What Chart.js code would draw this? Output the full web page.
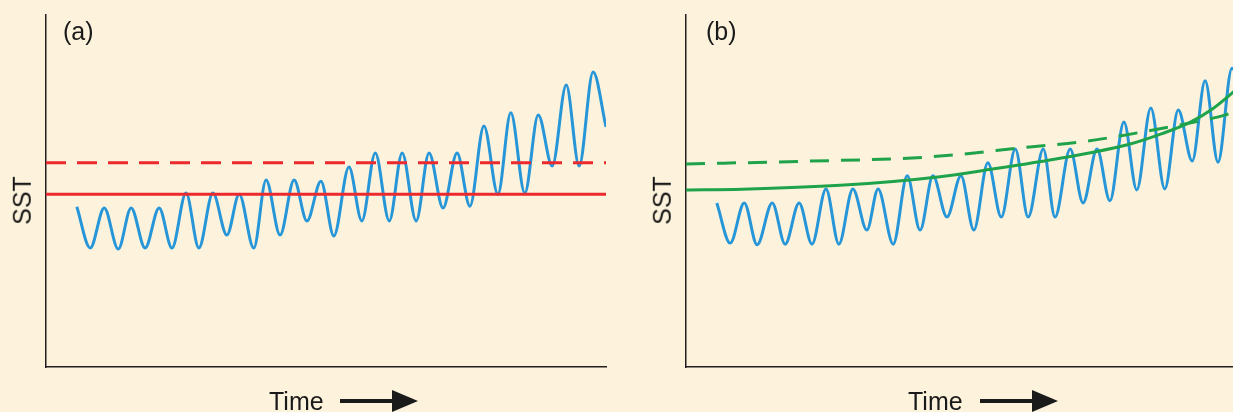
<!DOCTYPE html>
<html>
<head>
<meta charset="utf-8">
<script src="https://cdn.jsdelivr.net/npm/chart.js@4.4.1/dist/chart.umd.min.js"></script>
<style>
    html, body {
        margin: 0;
        padding: 0;
        width: 1233px;
        height: 412px;
        overflow: hidden;
        background: #fdf3dd;
        font-family: "Liberation Sans", Arial, sans-serif;
    }
    .panel {
        position: absolute;
        top: 0;
        width: 620px;
        height: 412px;
    }
    .label {
        position: absolute;
        font-size: 25px;
        color: #1a1a1a;
        white-space: nowrap;
        line-height: 1;
    }
    .sst {
        transform: rotate(-90deg);
        transform-origin: center center;
    }
    .arrow {
        position: absolute;
        height: 4px;
        background: #1a1a1a;
    }
    .arrow::after {
        content: '';
        position: absolute;
        right: -24px;
        top: -9px;
        border-left: 26px solid #1a1a1a;
        border-top: 11px solid transparent;
        border-bottom: 11px solid transparent;
    }
</style>
</head>
<body>
<div class="panel" style="left:0"><canvas id="chartA"></canvas></div>
<div class="panel" style="left:640px"><canvas id="chartB"></canvas></div>

<div class="label" style="left:63px; top:19px">(a)</div>
<div class="label" style="left:706px; top:19px">(b)</div>
<div class="label sst" style="left:-2px; top:188px">SST</div>
<div class="label sst" style="left:638px; top:188px">SST</div>
<div class="label" style="left:269px; top:389px">Time</div>
<div class="label" style="left:908px; top:389px">Time</div>
<div class="arrow" style="left:340px; top:399px; width:54px"></div>
<div class="arrow" style="left:980px; top:399px; width:54px"></div>

<script>
const timeA = [5.5, 7.9, 10.4, 12.9, 15.2, 17.7, 20.2, 22.5, 25.0, 27.3, 29.8, 32.3, 34.5, 37.1,
    39.3, 41.8, 44.3, 46.6, 49.1, 51.4, 54.1, 56.4, 58.8, 61.3, 63.6, 66.1, 68.4, 70.9, 73.4,
    75.7, 78.2, 80.7, 83.0, 85.5, 87.9, 90.4, 92.9, 95.2, 97.7, 100];
const sstA = [45.5, 33.8, 45.2, 33.5, 45.2, 33.8, 45.2, 33.8, 49.4, 33.8, 49.4, 37.5, 49.1, 33.8,
    53.1, 37.5, 53.1, 41.5, 52.8, 37.2, 56.8, 41.5, 60.8, 41.5, 60.8, 41.5, 60.8, 45.2, 60.8,
    45.7, 68.5, 49.1, 72.2, 49.4, 71.6, 57.1, 80.1, 57.1, 83.8, 68.2];

// fixed reference lines of panel (a)
const fullTime = [0, 100];
const fixedMean = [49.1, 49.1];
const fixedThreshold = [58.0, 58.0];

// Panel (b): same oscillation, slightly shifted
const timeB = [5.5, 7.9, 10.4, 12.7, 15.4, 17.7, 20.2, 22.5, 25.0, 27.3, 29.8, 32.3, 34.3, 37.0,
    39.5, 41.8, 44.1, 46.6, 49.1, 51.4, 53.9, 56.3, 58.8, 61.1, 63.8, 65.9, 68.6, 70.9, 73.4,
    75.7, 78.2, 80.5, 83.0, 85.5, 87.9, 90.4, 92.7, 95.0, 97.5, 100];
const sstB = [46.6, 35.2, 46.6, 34.7, 46.6, 34.9, 46.6, 34.9, 50.6, 34.9, 50.6, 38.9, 50.6, 34.9,
    54.3, 38.9, 54.3, 42.6, 54.3, 38.9, 58.0, 42.6, 61.9, 42.6, 61.9, 42.6, 61.9, 46.6, 61.9,
    47.2, 69.6, 50.3, 73.6, 50.6, 73.0, 58.5, 81.3, 58.2, 84.9, 69.6];

// moving reference lines of panel (b)
const trendTime = [0, 10, 27.5, 45, 55, 65, 72, 79, 85, 90, 94, 97.5, 100];
const trendMean = [50.3, 50.5, 51.6, 54.0, 56.3, 58.8, 60.8, 63.2, 66.3, 69.5, 73.3, 77.8, 81.5];
const trendThreshTime = [0, 20, 43.6, 61.4, 70.4, 82.3, 94.1, 97.7, 100];
const trendThreshold = [57.7, 58.4, 59.7, 62.5, 63.9, 67.0, 70.7, 72.2, 73.0];

const BLUE = '#2696d8';
const RED = '#ec2a2e';
const GREEN = '#1fa34a';
const AXIS = '#231f20';

function toPoints(xs, ys) {
    return xs.map((x, i) => ({ x: x, y: ys[i] }));
}

function lineSet(xs, ys, color, dash) {
    return {
        data: toPoints(xs, ys),
        borderColor: color,
        borderWidth: 3,
        borderDash: dash || [],
        pointRadius: 0,
        fill: false,
        cubicInterpolationMode: 'monotone'
    };
}

function makeChart(id, datasets) {
    const ctx = document.getElementById(id).getContext('2d');
    return new Chart(ctx, {
        type: 'line',
        data: { datasets: datasets },
        options: {
            responsive: false,
            animation: false,
            layout: { padding: { left: 46, top: 15, right: 14, bottom: 45 } },
            plugins: { legend: { display: false }, tooltip: { enabled: false } },
            scales: {
                x: {
                    type: 'linear', min: 0, max: 100,
                    grid: { display: false, drawTicks: false },
                    ticks: { display: false },
                    border: { display: true, color: AXIS, width: 1.5 }
                },
                y: {
                    min: 0, max: 100,
                    grid: { display: false, drawTicks: false },
                    ticks: { display: false },
                    border: { display: true, color: AXIS, width: 1.5 }
                }
            }
        }
    });
}

document.getElementById('chartA').width = 620;
document.getElementById('chartA').height = 412;
document.getElementById('chartB').width = 620;
document.getElementById('chartB').height = 412;

makeChart('chartA', [
    lineSet(fullTime, fixedThreshold, RED, [20, 11]),
    lineSet(fullTime, fixedMean, RED),
    lineSet(timeA, sstA, BLUE)
]);

makeChart('chartB', [
    lineSet(trendThreshTime, trendThreshold, GREEN, [19, 12]),
    lineSet(trendTime, trendMean, GREEN),
    lineSet(timeB, sstB, BLUE)
]);
</script>
</body>
</html>
